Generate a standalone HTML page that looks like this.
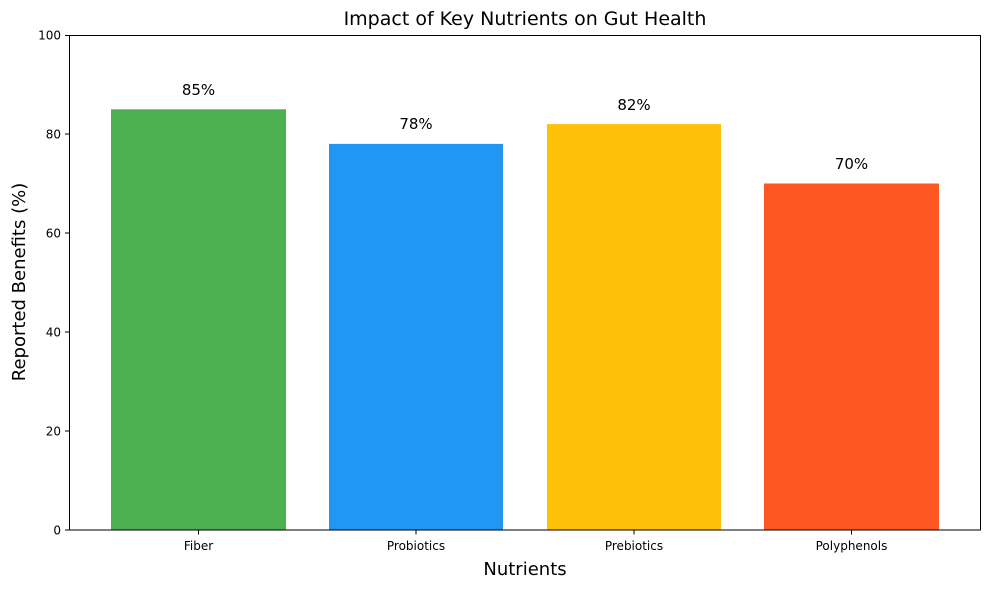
<!DOCTYPE html>
<html><head><meta charset="utf-8"><style>
html,body{margin:0;padding:0;background:#fff;}
svg{display:block;font-family:"DejaVu Sans","Liberation Sans",sans-serif;}
</style></head><body>
<svg width="989" height="590" viewBox="0 0 989 590" xmlns="http://www.w3.org/2000/svg">
<rect width="989" height="590" fill="#fff"/>
<text x="525" y="25" font-size="19" text-anchor="middle" fill="#000">Impact of Key Nutrients on Gut Health</text>
<rect x="111" y="109.3" width="175" height="420.7" fill="#4CAF50"/>
<rect x="329" y="143.9" width="174" height="386.1" fill="#2196F3"/>
<rect x="547" y="124.1" width="174" height="405.9" fill="#FFC107"/>
<rect x="764" y="183.5" width="175" height="346.5" fill="#FF5722"/>
<g font-size="15" text-anchor="middle" fill="#000">
<text x="198.5" y="95">85%</text>
<text x="416" y="129">78%</text>
<text x="634" y="110">82%</text>
<text x="851.5" y="169">70%</text>
</g>
<rect x="69.5" y="35.5" width="911" height="494.5" fill="none" stroke="#000" stroke-width="1"/>
<g stroke="#000" stroke-width="1">
<line x1="65" y1="530" x2="69.5" y2="530"/>
<line x1="65" y1="431" x2="69.5" y2="431"/>
<line x1="65" y1="332" x2="69.5" y2="332"/>
<line x1="65" y1="233" x2="69.5" y2="233"/>
<line x1="65" y1="134" x2="69.5" y2="134"/>
<line x1="65" y1="35.5" x2="69.5" y2="35.5"/>
<line x1="198.5" y1="530" x2="198.5" y2="534.5"/>
<line x1="416" y1="530" x2="416" y2="534.5"/>
<line x1="634" y1="530" x2="634" y2="534.5"/>
<line x1="851.5" y1="530" x2="851.5" y2="534.5"/>
</g>
<g font-size="12" text-anchor="end" fill="#000">
<text x="61" y="534.5">0</text>
<text x="61" y="435.5">20</text>
<text x="61" y="336.5">40</text>
<text x="61" y="237.5">60</text>
<text x="61" y="138.5">80</text>
<text x="61" y="39.5">100</text>
</g>
<g font-size="12" text-anchor="middle" fill="#000">
<text x="198.5" y="550">Fiber</text>
<text x="416" y="550">Probiotics</text>
<text x="634" y="550">Prebiotics</text>
<text x="851.5" y="550">Polyphenols</text>
</g>
<text x="525" y="575" font-size="18" text-anchor="middle" fill="#000">Nutrients</text>
<text transform="translate(25,282) rotate(-90)" font-size="18" text-anchor="middle" fill="#000">Reported Benefits (%)</text>
</svg>
</body></html>
